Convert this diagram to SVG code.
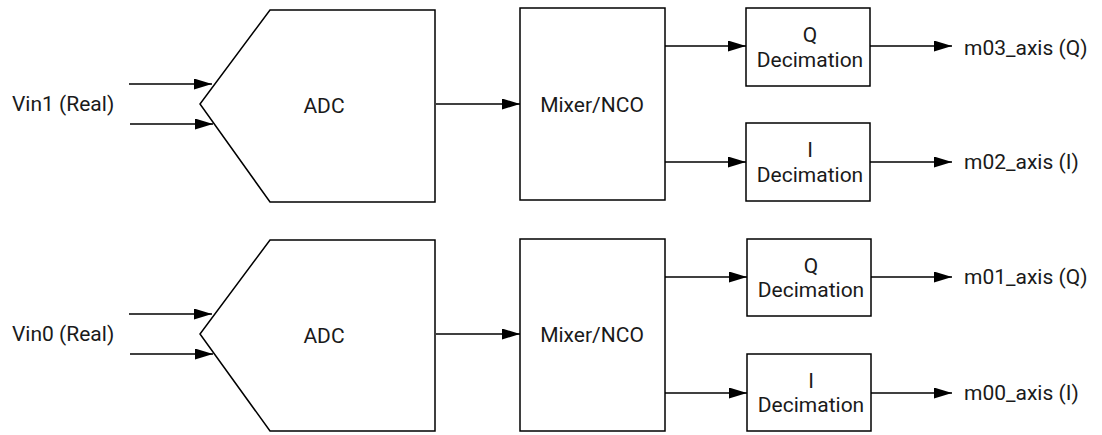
<svg xmlns="http://www.w3.org/2000/svg" width="1102" height="435" viewBox="0 0 1102 435">
<style>
.b{fill:#fff;stroke:#000;stroke-width:1.5}
.c{fill:none;stroke:#000;stroke-width:1.5;marker-end:url(#ah)}
text{font-family:Roboto,"Liberation Sans",sans-serif;font-size:21px;fill:#1a1a1a;dominant-baseline:central}
.m{text-anchor:middle}
</style>
<defs>
<marker id="ah" viewBox="0 0 18 11" refX="18" refY="5.5" markerWidth="18" markerHeight="11" markerUnits="userSpaceOnUse" orient="auto">
<path d="M0,0L18,5.5L0,11z" fill="#000"/>
</marker>
</defs>
<rect width="1102" height="435" fill="#fff"/>
<g id="vin1"><text x="12" y="104">Vin1 (Real)</text></g>
<g id="vin0"><text x="12" y="334">Vin0 (Real)</text></g>
<g id="adc1"><polygon class="b" points="270,10 435,10 435,202 270,202 200,104"/><text class="m" x="324" y="106">ADC</text></g>
<g id="adc0"><polygon class="b" points="270,240 435,240 435,431 270,431 200,334"/><text class="m" x="324" y="336">ADC</text></g>
<g id="mix1"><rect class="b" x="520" y="8" width="145" height="192"/><text class="m" x="592" y="105">Mixer/NCO</text></g>
<g id="mix0"><rect class="b" x="520" y="239" width="145" height="192"/><text class="m" x="592" y="335">Mixer/NCO</text></g>
<g id="qdec1"><rect class="b" x="746" y="8" width="124" height="78"/><text class="m" x="810" y="35">Q</text><text class="m" x="810" y="60">Decimation</text></g>
<g id="idec1"><rect class="b" x="746" y="123" width="124" height="78"/><text class="m" x="810" y="150">I</text><text class="m" x="810" y="175">Decimation</text></g>
<g id="qdec0"><rect class="b" x="747" y="239" width="124" height="77"/><text class="m" x="811" y="266">Q</text><text class="m" x="811" y="290">Decimation</text></g>
<g id="idec0"><rect class="b" x="747" y="354" width="124" height="77"/><text class="m" x="811" y="381">I</text><text class="m" x="811" y="405">Decimation</text></g>
<g id="out3"><text x="964" y="48">m03_axis (Q)</text></g>
<g id="out2"><text x="964" y="162">m02_axis (I)</text></g>
<g id="out1"><text x="964" y="277">m01_axis (Q)</text></g>
<g id="out0"><text x="964" y="393">m00_axis (I)</text></g>
<g id="connectors">
<path class="c" d="M129,84H212"/>
<path class="c" d="M130,124H213"/>
<path class="c" d="M129,314H212"/>
<path class="c" d="M130,354H213"/>
<path class="c" d="M436,104H520"/>
<path class="c" d="M436,334H520"/>
<path class="c" d="M665,46H746"/>
<path class="c" d="M665,162H746"/>
<path class="c" d="M665,277H747"/>
<path class="c" d="M665,393H747"/>
<path class="c" d="M870,46H952"/>
<path class="c" d="M870,162H952"/>
<path class="c" d="M871,277H952"/>
<path class="c" d="M871,393H952"/>
</g>
</svg>
